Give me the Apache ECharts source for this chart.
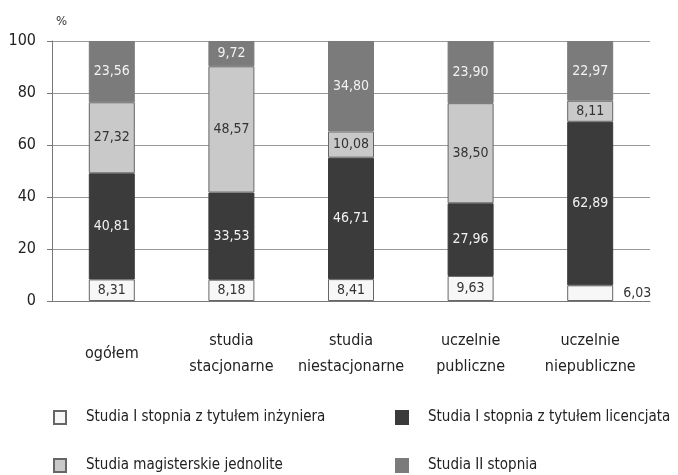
<!DOCTYPE html>
<html lang="pl">
<head>
    <meta charset="UTF-8">
    <title>Struktura studentów</title>
    <script src="https://cdn.jsdelivr.net/npm/echarts@6/dist/echarts.min.js"></script>
    <style>
        body { margin: 0; background: #fff; }
        #main { width: 678px; height: 475px; }
    </style>
</head>
<body>
<div id="main"></div>
<script>
    // dane
    var categories = ['ogółem', 'studia\nstacjonarne', 'studia\nniestacjonarne', 'uczelnie\npubliczne', 'uczelnie\nniepubliczne'];
    var seriesNames = [
        'Studia I stopnia z tytułem inżyniera',
        'Studia I stopnia z tytułem licencjata',
        'Studia magisterskie jednolite',
        'Studia II stopnia'
    ];
    var inzynier = [8.31, 8.18, 8.41, 9.63, 6.03];
    var licencjat = [40.81, 33.53, 46.71, 27.96, 62.89];
    var magisterskie = [27.32, 48.57, 10.08, 38.50, 8.11];
    var drugiStopien = [23.56, 9.72, 34.80, 23.90, 22.97];
    var yTicks = [0, 20, 40, 60, 80, 100];

    var font = '"DejaVu Sans Condensed", "Liberation Sans", sans-serif';
    var colors = ['#f7f7f7', '#3b3b3b', '#c9c9c9', '#7b7b7b'];
    var labelColors = ['#333', '#f2f2f2', '#333', '#f2f2f2'];

    function fmt(p) {
        return p.value.toFixed(2).replace('.', ',');
    }

    var myChart = echarts.init(document.getElementById('main'));

    var data = [inzynier, licencjat, magisterskie, drugiStopien];
    var series = [];
    for (var i = 0; i < data.length; i++) {
        var values = data[i];
        var items = [];
        for (var j = 0; j < values.length; j++) {
            var item = { value: values[j] };
            // ostatni mały słupek ma etykietę obok
            if (i === 0 && j === 4) {
                item.label = { position: 'right', distance: 10, color: '#333' };
            }
            items.push(item);
        }
        series.push({
            name: seriesNames[i],
            type: 'bar',
            stack: 'total',
            barWidth: 46,
            data: items,
            itemStyle: {
                color: colors[i],
                borderColor: (i === 0 || i === 2) ? '#666' : colors[i],
                borderWidth: 1
            },
            label: {
                show: true,
                position: 'inside',
                formatter: fmt,
                color: labelColors[i],
                fontFamily: font,
                fontSize: 14
            }
        });
    }

    // cztery osobne legendy, po jednej pozycji (układ 2x2)
    var legendPos = [[48, 405], [390, 405], [48, 453], [390, 453]];
    var legends = [];
    for (var k = 0; k < seriesNames.length; k++) {
        legends.push({
            data: [seriesNames[k]],
            left: legendPos[k][0],
            top: legendPos[k][1],
            icon: 'rect',
            itemWidth: 12, itemHeight: 13,
            selectedMode: false,
            textStyle: { fontFamily: font, fontSize: 15, color: '#222', padding: [0, 0, 0, 15] }
        });
    }

    var option = {
        animation: false,
        grid: { left: 52, right: 28, top: 41, bottom: 174 },
        legend: legends,
        xAxis: {
            type: 'category',
            data: categories,
            axisLine: { lineStyle: { color: '#777' } },
            axisTick: { length: 6, lineStyle: { color: '#777' } },
            axisLabel: {
                interval: 0,
                margin: 53,
                verticalAlign: 'middle',
                fontFamily: font,
                fontSize: 16,
                lineHeight: 26,
                color: '#222'
            }
        },
        yAxis: {
            type: 'value',
            min: yTicks[0],
            max: yTicks[yTicks.length - 1],
            interval: 20,
            name: '%',
            nameGap: 13,
            nameTextStyle: { fontFamily: font, fontSize: 13, color: '#333', align: 'left', padding: [0, 0, 0, 4] },
            axisLine: { show: true, lineStyle: { color: '#777' } },
            axisTick: { show: true, length: 5, lineStyle: { color: '#777' } },
            axisLabel: { fontFamily: font, fontSize: 16, color: '#222', margin: 16 },
            splitLine: { lineStyle: { color: '#999' } }
        },
        series: series
    };
    myChart.setOption(option);
</script>
</body>
</html>
